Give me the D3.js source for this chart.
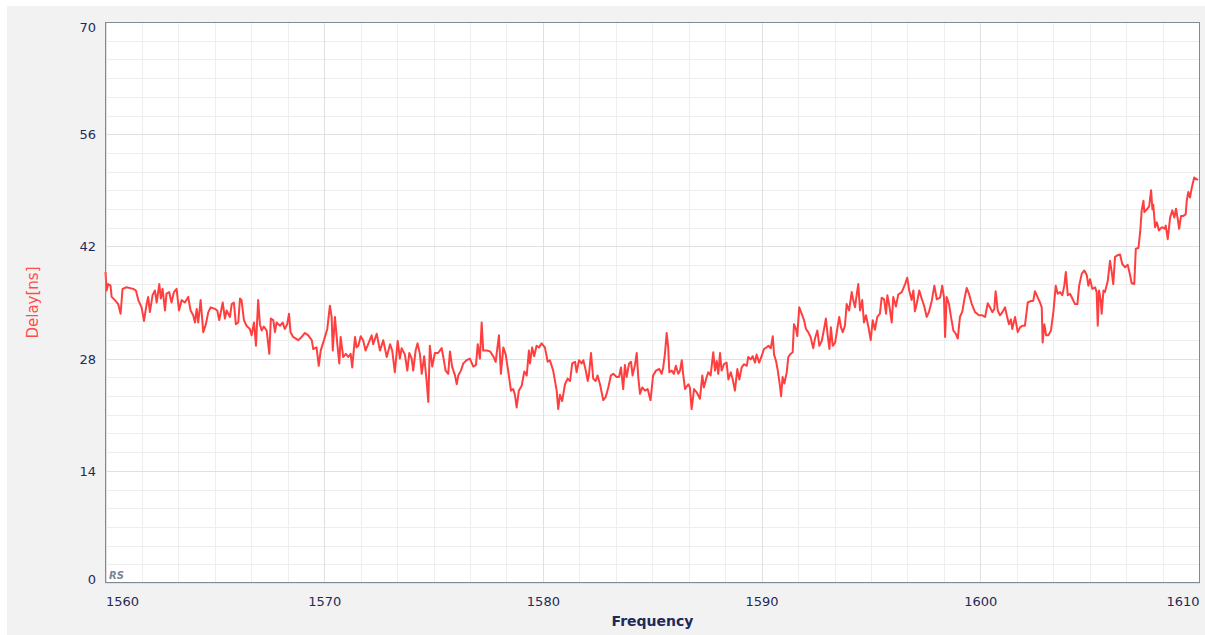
<!DOCTYPE html>
<html>
<head>
<meta charset="utf-8">
<script src="https://cdn.jsdelivr.net/npm/d3@7"></script>
<style>
  html, body { margin: 0; padding: 0; background: #ffffff; }
  svg { display: block; font-family: 'DejaVu Sans', Verdana, sans-serif; }
</style>
</head>
<body>
<div id="chart"></div>
<script>
// --- Data ---
const xTicks = [1560, 1570, 1580, 1590, 1600, 1610];
const yTicks = [0, 14, 28, 42, 56, 70];

const freqs = [
  1560.00, 1560.05, 1560.12, 1560.23, 1560.28, 1560.43, 1560.58, 1560.69, 1560.78, 1560.96,
  1561.27, 1561.39, 1561.50, 1561.65, 1561.76, 1561.88, 1561.95, 1562.03, 1562.15, 1562.26,
  1562.34, 1562.46, 1562.53, 1562.61, 1562.72, 1562.79, 1562.91, 1563.02, 1563.13, 1563.25,
  1563.36, 1563.48, 1563.63, 1563.78, 1563.89, 1564.01, 1564.09, 1564.17, 1564.24, 1564.35,
  1564.47, 1564.59, 1564.70, 1564.81, 1565.00, 1565.11, 1565.20, 1565.36, 1565.46, 1565.54,
  1565.69, 1565.77, 1565.87, 1565.96, 1566.07, 1566.15, 1566.22, 1566.33, 1566.45, 1566.60,
  1566.68, 1566.79, 1566.88, 1566.98, 1567.06, 1567.14, 1567.24, 1567.37, 1567.49, 1567.56,
  1567.67, 1567.75, 1567.82, 1567.98, 1568.10, 1568.20, 1568.31, 1568.39, 1568.46, 1568.58,
  1568.81, 1568.97, 1569.12, 1569.27, 1569.43, 1569.50, 1569.65, 1569.75, 1569.84, 1569.99,
  1570.14, 1570.26, 1570.34, 1570.39, 1570.49, 1570.60, 1570.69, 1570.75, 1570.87, 1570.99,
  1571.10, 1571.21, 1571.28, 1571.41, 1571.48, 1571.56, 1571.67, 1571.78, 1571.89, 1572.01,
  1572.17, 1572.24, 1572.40, 1572.55, 1572.70, 1572.86, 1573.01, 1573.11, 1573.23, 1573.36,
  1573.46, 1573.54, 1573.69, 1573.80, 1573.89, 1574.00, 1574.07, 1574.18, 1574.27, 1574.38,
  1574.46, 1574.57, 1574.68, 1574.76, 1574.83, 1574.94, 1575.06, 1575.21, 1575.37, 1575.44,
  1575.55, 1575.67, 1575.75, 1575.85, 1575.98, 1576.06, 1576.13, 1576.25, 1576.36, 1576.51,
  1576.66, 1576.82, 1576.94, 1577.02, 1577.12, 1577.20, 1577.27, 1577.43, 1577.58, 1577.73,
  1577.84, 1577.99, 1578.08, 1578.19, 1578.30, 1578.42, 1578.54, 1578.64, 1578.72, 1578.80,
  1578.90, 1579.03, 1579.15, 1579.26, 1579.36, 1579.41, 1579.51, 1579.60, 1579.71, 1579.82,
  1579.94, 1580.09, 1580.22, 1580.32, 1580.47, 1580.63, 1580.70, 1580.78, 1580.88, 1581.01,
  1581.13, 1581.24, 1581.34, 1581.47, 1581.54, 1581.65, 1581.77, 1581.85, 1581.96, 1582.05,
  1582.11, 1582.20, 1582.30, 1582.41, 1582.50, 1582.61, 1582.76, 1582.87, 1582.99, 1583.11,
  1583.22, 1583.37, 1583.48, 1583.57, 1583.67, 1583.75, 1583.83, 1583.94, 1584.03, 1584.10,
  1584.21, 1584.29, 1584.36, 1584.44, 1584.54, 1584.67, 1584.79, 1584.92, 1585.04, 1585.17,
  1585.32, 1585.43, 1585.50, 1585.58, 1585.66, 1585.73, 1585.78, 1585.89, 1585.99, 1586.08,
  1586.19, 1586.27, 1586.35, 1586.42, 1586.50, 1586.65, 1586.72, 1586.80, 1586.91, 1587.03,
  1587.18, 1587.29, 1587.36, 1587.49, 1587.56, 1587.67, 1587.79, 1587.87, 1587.95, 1588.02,
  1588.10, 1588.17, 1588.28, 1588.40, 1588.48, 1588.59, 1588.68, 1588.78, 1588.89, 1588.98,
  1589.09, 1589.19, 1589.32, 1589.39, 1589.50, 1589.59, 1589.70, 1589.77, 1589.89, 1590.00,
  1590.11, 1590.23, 1590.31, 1590.42, 1590.51, 1590.57, 1590.66, 1590.74, 1590.84, 1590.89,
  1590.96, 1591.04, 1591.15, 1591.22, 1591.30, 1591.42, 1591.48, 1591.57, 1591.63, 1591.72,
  1591.83, 1591.94, 1592.03, 1592.13, 1592.24, 1592.36, 1592.44, 1592.55, 1592.64, 1592.75,
  1592.85, 1592.94, 1593.02, 1593.10, 1593.17, 1593.25, 1593.36, 1593.46, 1593.55, 1593.63,
  1593.71, 1593.81, 1593.89, 1594.00, 1594.12, 1594.19, 1594.27, 1594.35, 1594.42, 1594.50,
  1594.60, 1594.68, 1594.77, 1594.88, 1594.99, 1595.08, 1595.18, 1595.29, 1595.41, 1595.49,
  1595.60, 1595.69, 1595.75, 1595.84, 1595.95, 1596.02, 1596.14, 1596.25, 1596.41, 1596.56,
  1596.66, 1596.75, 1596.86, 1596.94, 1597.01, 1597.09, 1597.21, 1597.32, 1597.43, 1597.55,
  1597.65, 1597.78, 1597.90, 1598.01, 1598.16, 1598.26, 1598.34, 1598.39, 1598.46, 1598.57,
  1598.66, 1598.77, 1598.88, 1598.97, 1599.07, 1599.18, 1599.27, 1599.38, 1599.48, 1599.61,
  1599.76, 1599.94, 1600.09, 1600.22, 1600.34, 1600.44, 1600.55, 1600.64, 1600.70, 1600.80,
  1600.90, 1601.01, 1601.13, 1601.21, 1601.31, 1601.40, 1601.46, 1601.59, 1601.71, 1601.82,
  1601.92, 1602.04, 1602.17, 1602.32, 1602.42, 1602.50, 1602.63, 1602.73, 1602.81, 1602.85,
  1602.93, 1603.01, 1603.11, 1603.23, 1603.34, 1603.45, 1603.54, 1603.65, 1603.75, 1603.84,
  1603.91, 1604.00, 1604.10, 1604.21, 1604.33, 1604.44, 1604.52, 1604.64, 1604.76, 1604.87,
  1604.94, 1605.02, 1605.12, 1605.25, 1605.32, 1605.37, 1605.43, 1605.51, 1605.55, 1605.63,
  1605.70, 1605.83, 1605.93, 1606.01, 1606.08, 1606.16, 1606.28, 1606.39, 1606.49, 1606.62,
  1606.74, 1606.85, 1606.92, 1607.04, 1607.11, 1607.23, 1607.31, 1607.38, 1607.46, 1607.50,
  1607.61, 1607.72, 1607.81, 1607.87, 1607.91, 1607.99, 1608.07, 1608.17, 1608.30, 1608.42,
  1608.48, 1608.57, 1608.68, 1608.78, 1608.87, 1608.95, 1609.03, 1609.09, 1609.18, 1609.28,
  1609.39, 1609.44, 1609.51, 1609.59, 1609.66, 1609.78, 1609.89, 1609.96
];

const delays = [
  38.8, 36.5, 37.3, 37.1, 35.7, 35.3, 34.8, 33.6, 36.7, 36.9,
  36.7, 36.5, 35.3, 34.4, 32.7, 34.8, 35.7, 33.8, 35.9, 36.5,
  35.0, 37.3, 35.5, 36.7, 34.0, 36.1, 36.3, 35.0, 36.3, 36.7,
  34.0, 35.3, 35.0, 35.7, 34.0, 33.4, 32.5, 34.2, 32.5, 35.3,
  31.3, 32.3, 33.8, 34.4, 34.2, 34.0, 32.8, 35.0, 33.0, 34.0,
  33.2, 34.8, 35.0, 32.3, 32.5, 35.5, 35.3, 32.8, 32.1, 31.7,
  30.9, 32.5, 29.6, 35.3, 32.3, 31.5, 32.0, 31.5, 28.6, 33.0,
  32.8, 31.3, 32.5, 32.1, 32.5, 31.7, 32.3, 33.6, 31.3, 30.7,
  30.3, 30.7, 31.2, 30.9, 30.3, 29.2, 29.4, 27.1, 29.0, 30.3,
  31.7, 34.6, 33.2, 29.0, 33.2, 29.8, 27.4, 30.7, 28.2, 28.6,
  28.2, 28.6, 26.9, 30.7, 29.4, 29.6, 30.8, 30.3, 29.0, 29.8,
  30.9, 29.8, 31.1, 29.0, 30.3, 28.2, 29.8, 29.0, 26.3, 30.2,
  28.0, 29.3, 28.5, 26.5, 28.7, 28.0, 26.5, 29.0, 29.9, 28.5,
  26.1, 28.3, 25.3, 22.6, 29.6, 27.0, 28.7, 28.7, 29.3, 28.3,
  26.5, 26.1, 28.9, 27.0, 25.9, 24.8, 25.9, 26.5, 27.4, 27.8,
  28.0, 27.0, 27.2, 29.8, 28.0, 32.5, 29.0, 29.0, 28.9, 28.3,
  27.6, 30.9, 26.1, 29.4, 28.5, 26.3, 24.0, 24.2, 23.5, 21.9,
  24.0, 24.6, 26.4, 25.9, 29.0, 27.4, 29.4, 28.3, 29.6, 29.4,
  29.9, 29.4, 27.6, 27.8, 26.5, 24.0, 21.7, 23.5, 22.7, 24.8,
  25.5, 25.2, 27.4, 27.6, 26.3, 27.8, 27.4, 27.8, 26.5, 25.2,
  26.1, 28.7, 25.5, 25.2, 25.9, 24.8, 22.8, 23.2, 24.4, 25.9,
  26.1, 25.7, 25.7, 26.9, 24.2, 27.2, 25.7, 27.4, 27.6, 25.9,
  27.2, 28.7, 25.7, 23.6, 24.4, 24.0, 24.2, 22.8, 25.9, 26.5,
  26.7, 26.1, 26.9, 28.6, 31.2, 29.4, 26.3, 26.5, 26.1, 27.1,
  26.1, 26.5, 27.8, 25.9, 24.2, 24.8, 24.4, 21.7, 24.2, 23.8,
  23.0, 25.9, 24.4, 25.7, 26.3, 25.9, 28.8, 26.5, 27.7, 26.1,
  28.7, 26.5, 27.3, 27.5, 25.4, 26.3, 25.4, 24.0, 26.7, 25.4,
  26.9, 27.3, 27.1, 28.2, 27.9, 28.3, 27.5, 28.5, 27.5, 28.3,
  29.2, 29.4, 29.6, 29.3, 30.8, 28.5, 27.7, 26.5, 24.6, 23.3,
  25.7, 24.9, 26.3, 28.2, 28.5, 28.8, 32.3, 31.7, 30.8, 34.4,
  33.6, 32.8, 31.7, 31.3, 30.7, 29.3, 30.5, 31.5, 29.6, 30.2,
  31.6, 33.0, 30.9, 29.2, 31.9, 29.6, 30.0, 31.7, 33.2, 31.9,
  31.3, 32.1, 34.8, 34.0, 36.3, 35.3, 34.4, 36.0, 37.3, 34.0,
  35.3, 32.5, 33.4, 32.0, 30.3, 32.8, 31.6, 33.2, 33.6, 35.6,
  35.4, 33.6, 35.9, 34.6, 32.5, 35.7, 34.5, 36.0, 36.3, 37.3,
  38.1, 36.5, 35.3, 36.5, 33.9, 34.8, 36.5, 35.5, 34.6, 33.2,
  33.8, 35.2, 37.1, 35.4, 35.6, 37.1, 35.6, 30.7, 35.7, 34.8,
  33.2, 31.5, 31.1, 30.5, 33.2, 33.9, 35.4, 36.8, 36.1, 34.8,
  33.8, 33.4, 33.4, 33.2, 34.9, 34.4, 33.8, 34.2, 36.4, 34.0,
  33.4, 33.8, 34.4, 33.4, 32.3, 32.9, 31.7, 33.2, 31.3, 31.9,
  32.1, 32.1, 35.0, 35.2, 35.2, 36.4, 35.6, 35.0, 34.4, 30.0,
  32.3, 30.9, 30.9, 31.5, 33.8, 37.1, 36.1, 36.3, 35.9, 37.1,
  38.8, 35.9, 36.1, 35.5, 34.8, 34.8, 37.1, 38.6, 39.0, 38.4,
  37.1, 37.9, 36.7, 36.9, 36.3, 32.1, 36.5, 35.2, 33.6, 36.5,
  36.3, 37.7, 40.2, 38.8, 37.3, 40.7, 40.9, 41.0, 39.8, 39.4,
  39.7, 38.4, 37.4, 37.3, 41.7, 41.8, 43.8, 46.5, 47.7, 46.3,
  46.6, 47.0, 49.0, 46.6, 47.2, 44.4, 45.0, 44.0, 44.4, 44.2,
  44.6, 42.9, 45.6, 46.5, 45.6, 46.7, 45.4, 44.2, 45.8, 45.8,
  46.0, 47.7, 48.8, 48.1, 49.2, 50.6, 50.4, 50.3
];

const xLabel = 'Frequency';
const yLabel = 'Delay[ns]';

// --- Layout ---
const W = 1205, H = 635;
const plot = { left: 105, top: 22, right: 1200, bottom: 583 };
const textColor = '#1f2a5c';

const svg = d3.select('#chart').append('svg')
  .attr('width', W)
  .attr('height', H);

// panel background
svg.append('rect')
  .attr('x', 7).attr('y', 6)
  .attr('width', W - 7).attr('height', H - 6)
  .attr('fill', '#f2f2f2');

svg.append('rect')
  .attr('x', plot.left).attr('y', plot.top)
  .attr('width', plot.right - plot.left).attr('height', plot.bottom - plot.top)
  .attr('fill', '#ffffff');

const x = d3.scaleLinear()
  .domain([xTicks[0], xTicks[xTicks.length - 1]])
  .range([plot.left + 0.5, plot.right - 1]);

const y = d3.scaleLinear()
  .domain([yTicks[0], yTicks[yTicks.length - 1]])
  .range([plot.bottom, plot.top]);

// minor grid (6 divisions between major ticks)
const xMinor = d3.range(xTicks[0], xTicks[xTicks.length - 1] + 0.001, 10 / 6);
const yMinor = d3.range(yTicks[0], yTicks[yTicks.length - 1] + 0.001, 14 / 6);

const grid = svg.append('g').attr('shape-rendering', 'crispEdges');

grid.append('g')
  .attr('transform', `translate(0,${plot.bottom})`)
  .call(d3.axisBottom(x).tickValues(xMinor).tickSize(-(plot.bottom - plot.top)).tickFormat(''))
  .call(g => g.select('.domain').remove())
  .selectAll('line').attr('stroke', '#eeeeee');

grid.append('g')
  .attr('transform', `translate(${plot.left},0)`)
  .call(d3.axisLeft(y).tickValues(yMinor).tickSize(-(plot.right - plot.left)).tickFormat(''))
  .call(g => g.select('.domain').remove())
  .selectAll('line').attr('stroke', '#eeeeee');

grid.append('g')
  .attr('transform', `translate(0,${plot.bottom})`)
  .call(d3.axisBottom(x).tickValues(xTicks).tickSize(-(plot.bottom - plot.top)).tickFormat(''))
  .call(g => g.select('.domain').remove())
  .selectAll('line').attr('stroke', '#e0e0e0');

grid.append('g')
  .attr('transform', `translate(${plot.left},0)`)
  .call(d3.axisLeft(y).tickValues(yTicks).tickSize(-(plot.right - plot.left)).tickFormat(''))
  .call(g => g.select('.domain').remove())
  .selectAll('line').attr('stroke', '#e0e0e0');

// data line
const data = freqs.map((f, i) => ({ f, d: delays[i] }));
const line = d3.line()
  .x(p => x(p.f))
  .y(p => y(p.d));

svg.append('path')
  .datum(data)
  .attr('fill', 'none')
  .attr('stroke', '#ff3f3f')
  .attr('stroke-width', 2)
  .attr('stroke-linejoin', 'round')
  .attr('d', line);

// plot border
svg.append('rect')
  .attr('x', plot.left + 0.5).attr('y', plot.top + 0.5)
  .attr('width', plot.right - plot.left - 1).attr('height', plot.bottom - plot.top - 1)
  .attr('fill', 'none')
  .attr('stroke', '#7f8b99')
  .attr('stroke-width', 1);

// x axis labels
const xAxis = svg.append('g')
  .attr('transform', `translate(0,${plot.bottom})`)
  .call(d3.axisBottom(x).tickValues(xTicks).tickSize(0).tickPadding(14).tickFormat(d3.format('d')));
xAxis.select('.domain').remove();
xAxis.selectAll('text')
  .attr('fill', textColor)
  .style('font-size', '13px')
  .style('font-family', "'DejaVu Sans', sans-serif")
  .attr('text-anchor', (d, i) => i === 0 ? 'start' : (i === xTicks.length - 1 ? 'end' : 'middle'));

// y axis labels
const yAxis = svg.append('g')
  .attr('transform', `translate(${plot.left},0)`)
  .call(d3.axisLeft(y).tickValues(yTicks).tickSize(0).tickPadding(9).tickFormat(d3.format('d')));
yAxis.select('.domain').remove();
yAxis.selectAll('text')
  .attr('fill', textColor)
  .style('font-size', '13px')
  .style('font-family', "'DejaVu Sans', sans-serif")
  .attr('dy', (d, i) => i === 0 ? '0.02em' : (i === yTicks.length - 1 ? '0.72em' : '0.35em'));

// axis titles
svg.append('text')
  .attr('x', (plot.left + plot.right) / 2)
  .attr('y', 626)
  .attr('text-anchor', 'middle')
  .attr('fill', textColor)
  .style('font-size', '14px')
  .style('font-weight', 'bold')
  .text(xLabel);

svg.append('text')
  .attr('transform', `translate(38,${(plot.top + plot.bottom) / 2}) rotate(-90)`)
  .attr('text-anchor', 'middle')
  .attr('fill', '#ff4d4d')
  .style('font-size', '15px')
  .text(yLabel);

// "RS" watermark in the corner
svg.append('text')
  .attr('x', plot.left + 4)
  .attr('y', plot.bottom - 4)
  .attr('fill', '#7a8595')
  .style('font-size', '10px')
  .style('font-style', 'italic')
  .style('font-weight', 'bold')
  .text('RS');
</script>
</body>
</html>
